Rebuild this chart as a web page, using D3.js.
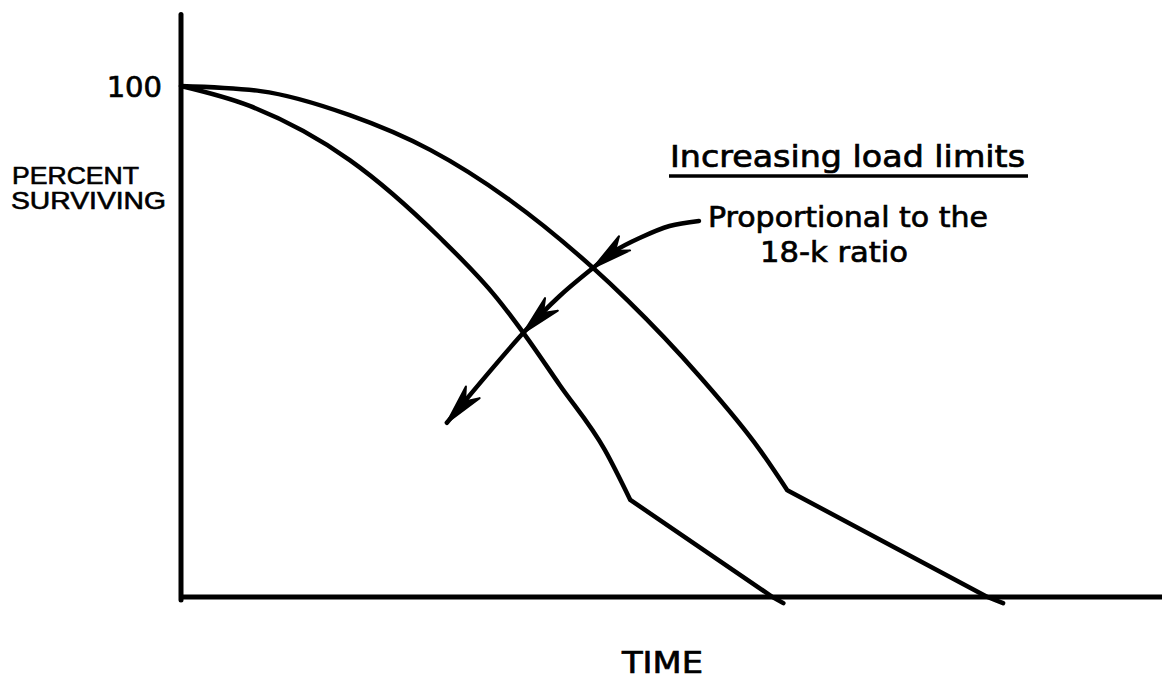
<!DOCTYPE html>
<html>
<head>
<meta charset="utf-8">
<script src="https://cdn.jsdelivr.net/npm/d3@7"></script>
<style>
  html, body { margin: 0; padding: 0; background: #fff; }
  svg { display: block; }
  text { fill: #000; stroke: #000; stroke-width: 0.7px; }
</style>
</head>
<body>
<div id="chart"></div>
<script>
// Curve data (time units 0-100, percent surviving)
var curveA = [[0, 100], [7.0, 96.1], [17.2, 85.5], [26.4, 70.3], [32.2, 58.5], [34.9, 51.7],
              [38.6, 41.5], [43.2, 28.8], [45.8, 19.0]];
var tailA = [[45.8, 19.0], [60.3, 0], [61.4, -1.2]];

var curveB = [[0, 100], [8.1, 99.0], [17.2, 94.3], [25.4, 87.5], [33.5, 77.7], [42.0, 64.4],
              [45.5, 58.1], [52.9, 43.1], [59.0, 28.8], [61.8, 20.9]];
var tailB = [[61.8, 20.9], [82.2, 0], [83.8, -1.2]];

// Annotation arrow (same units), and where the heads sit
var arrowPath = [[52.8, 73.6], [49.8, 72.6], [46.8, 70.3], [44.2, 67.7], [42.0, 64.4],
                 [38.6, 58.9], [34.9, 51.7], [27.1, 34.1]];
var arrowHeads = [4, 6, 7];   // indexes into arrowPath

var yTickLabels = [100];
var axisTop = 114;

var width = 1162, height = 679;

var svg = d3.select("#chart")
    .append("svg")
        .attr("width", width)
        .attr("height", height);

var x = d3.scaleLinear()
    .domain([0, 100])
    .range([181, 1162]);

var y = d3.scaleLinear()
    .domain([0, 100])
    .range([597, 86]);

// Axes
svg.append("line")
    .attr("x1", x(0)).attr("x2", x(0))
    .attr("y1", y(axisTop)).attr("y2", y(0) + 3)
    .attr("stroke", "#000").attr("stroke-width", 5).attr("stroke-linecap", "round");

svg.append("line")
    .attr("x1", x(0) - 2).attr("x2", x(100))
    .attr("y1", y(0)).attr("y2", y(0))
    .attr("stroke", "#000").attr("stroke-width", 5);

// Tick label
svg.selectAll(".ylab")
    .data(yTickLabels)
    .enter()
    .append("text")
    .attr("class", "ylab")
    .attr("x", x(0) - 19)
    .attr("y", function(d) { return y(d) + 11; })
    .attr("text-anchor", "end")
    .style("font-family", "DejaVu Sans")
    .style("font-size", "29px")
    .text(function(d) { return d; });

// Axis titles
svg.append("text")
    .attr("x", 12).attr("y", 184)
    .attr("textLength", 127).attr("lengthAdjust", "spacingAndGlyphs")
    .style("font-family", "Liberation Sans").style("font-size", "24px")
    .style("stroke-width", "0.6px")
    .text("PERCENT");
svg.append("text")
    .attr("x", 11).attr("y", 209)
    .attr("textLength", 155).attr("lengthAdjust", "spacingAndGlyphs")
    .style("font-family", "Liberation Sans").style("font-size", "24px")
    .style("stroke-width", "0.6px")
    .text("SURVIVING");

svg.append("text")
    .attr("x", 622).attr("y", 673)
    .attr("textLength", 81).attr("lengthAdjust", "spacingAndGlyphs")
    .style("font-family", "DejaVu Sans").style("font-size", "30px")
    .text("TIME");

// Curves: smooth body, straight tail
var smooth = d3.line()
    .x(function(d) { return x(d[0]); })
    .y(function(d) { return y(d[1]); })
    .curve(d3.curveMonotoneX);

var straight = d3.line()
    .x(function(d) { return x(d[0]); })
    .y(function(d) { return y(d[1]); });

[[curveA, tailA], [curveB, tailB]].forEach(function(c) {
    svg.append("path")
        .attr("d", smooth(c[0]) + straight(c[1]))
        .attr("fill", "none")
        .attr("stroke", "#000")
        .attr("stroke-width", 4.5)
        .attr("stroke-linejoin", "round")
        .attr("stroke-linecap", "round");
});

// Arrow
svg.append("path")
    .attr("d", d3.line()
        .x(function(d) { return x(d[0]); })
        .y(function(d) { return y(d[1]); })
        .curve(d3.curveCatmullRom.alpha(0.5))(arrowPath))
    .attr("fill", "none")
    .attr("stroke", "#000")
    .attr("stroke-width", 4.5)
    .attr("stroke-linecap", "round");

svg.selectAll(".head")
    .data(arrowHeads)
    .enter()
    .append("path")
    .attr("class", "head")
    .attr("d", function(i) {
        var tx = x(arrowPath[i][0]), ty = y(arrowPath[i][1]);
        var px = x(arrowPath[i - 1][0]), py = y(arrowPath[i - 1][1]);
        var dx = tx - px, dy = ty - py;
        var len = Math.sqrt(dx * dx + dy * dy);
        var ux = dx / len, uy = dy / len;
        var nx = -uy, ny = ux;
        var L = 40, W = 9;
        var pts = [
            [tx, ty],
            [tx - ux * L + nx * W, ty - uy * L + ny * W],
            [tx - ux * L * 0.7, ty - uy * L * 0.7],
            [tx - ux * L - nx * W, ty - uy * L - ny * W]
        ];
        return "M" + pts.map(function(p) { return p.join(","); }).join("L") + "Z";
    })
    .attr("fill", "#000")
    .attr("stroke", "#000")
    .attr("stroke-width", 2)
    .attr("stroke-linejoin", "round");

// Annotation text
svg.append("text")
    .attr("x", 670).attr("y", 167)
    .attr("textLength", 355).attr("lengthAdjust", "spacingAndGlyphs")
    .style("font-family", "DejaVu Sans").style("font-size", "30px")
    .text("Increasing load limits");
svg.append("line")
    .attr("x1", 669).attr("x2", 1028)
    .attr("y1", 176).attr("y2", 176)
    .attr("stroke", "#000").attr("stroke-width", 3.5);

svg.append("text")
    .attr("x", 708).attr("y", 227)
    .attr("textLength", 280).attr("lengthAdjust", "spacingAndGlyphs")
    .style("font-family", "DejaVu Sans").style("font-size", "29px")
    .text("Proportional to the");
svg.append("text")
    .attr("x", 760).attr("y", 262)
    .attr("textLength", 148).attr("lengthAdjust", "spacingAndGlyphs")
    .style("font-family", "DejaVu Sans").style("font-size", "29px")
    .text("18-k ratio");
</script>
</body>
</html>
